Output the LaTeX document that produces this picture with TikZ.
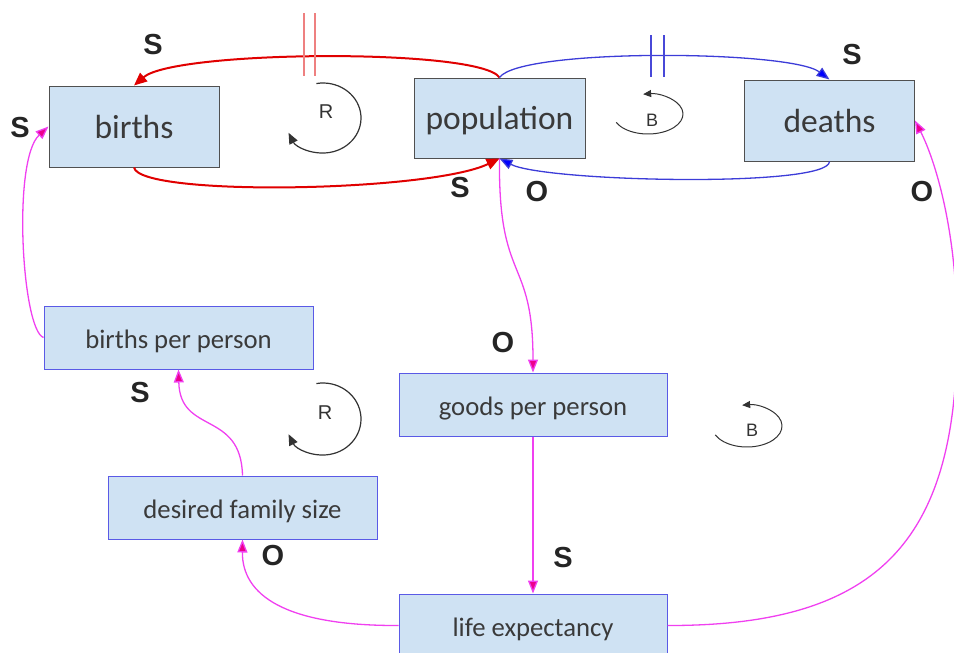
\documentclass[tikz,border=0pt]{standalone}
\usepackage{fontspec}
\setmainfont{Carlito}
\newfontfamily\arialf{Liberation Sans}
\usetikzlibrary{arrows.meta}
\definecolor{boxfill}{HTML}{CFE2F3}
\definecolor{txtgray}{HTML}{3A3A3A}
\definecolor{grayedge}{HTML}{505050}
\definecolor{blueedge}{HTML}{5A5AE6}
\definecolor{redline}{HTML}{E00000}
\definecolor{delayred}{HTML}{EE8080}
\definecolor{blueline}{HTML}{3C3CD8}
\definecolor{delayblue}{HTML}{4848D8}
\definecolor{magline}{HTML}{F040F0}
\definecolor{signcol}{HTML}{252525}
\tikzset{
  varbox/.style={rectangle, fill=boxfill, inner sep=0pt, text=txtgray, line width=1pt},
  bigbox/.style={varbox, draw=grayedge, minimum width=170pt, minimum height=81pt, text height=23pt, text depth=0pt, font=\fontsize{33.5}{38}\selectfont},
  smallbox/.style={varbox, draw=blueedge, minimum width=269pt, minimum height=63pt, text height=22pt, text depth=0pt, font=\fontsize{26.7}{30}\selectfont},
  sign/.style={font=\arialf\bfseries\fontsize{29}{30}\selectfont, text=signcol, inner sep=0pt},
  loopletter/.style={font=\arialf\fontsize{20}{22}\selectfont, text=black!80, inner sep=0pt},
  redlink/.style={draw=redline, line width=2pt, -{Triangle[length=13pt,width=11pt]}},
  bluelink/.style={draw=blueline, line width=1.3pt, -{Triangle[length=13pt,width=10pt,fill=blue]}},
  maglink/.style={draw=magline, line width=1.3pt, -{Triangle[length=13pt,width=10pt,fill=magenta]}},
  loopline/.style={draw=black!80, line width=1.2pt},
}
\begin{document}
\begin{tikzpicture}[x=1pt,y=-1pt]
\useasboundingbox (0,0) rectangle (954,653);

% boxes
\node[bigbox] (births) at (134,126.5) {births};
\node[bigbox, minimum width=171pt, minimum height=80pt] (pop) at (499.5,118) {population};
\node[bigbox] (deaths) at (829.5,120.5) {deaths};
\node[smallbox] (bpp) at (178.5,337.5) {births per person};
\node[smallbox, minimum width=268pt] (gpp) at (533,404.5) {goods per person};
\node[smallbox] (dfs) at (242.5,507.5) {desired family size};
\node[smallbox, minimum width=268pt] (life) at (533,625.5) {life expectancy};

% red loop links
\draw[redlink] (pop.north) .. controls (480,48) and (175,50) .. (births.north);
\draw[redlink] (births.south) .. controls (140,197) and (430,192) .. (pop.south);
% blue loop links
\draw[bluelink] (pop.north) .. controls (520,48) and (790,50) .. (deaths.north);
\draw[bluelink] (deaths.south) .. controls (829,188) and (545,182) .. (pop.south);

% delay marks
\coordinate (rd1) at (304,13); \coordinate (rd2) at (304,76);
\coordinate (rd3) at (315,13); \coordinate (rd4) at (315,76);
\draw[delayred, line width=1.2pt] (rd1) -- (rd2) (rd3) -- (rd4);
\coordinate (bd1) at (651,35); \coordinate (bd2) at (651,77);
\coordinate (bd3) at (664,35); \coordinate (bd4) at (664,77);
\draw[delayblue, line width=1.2pt] (bd1) -- (bd2) (bd3) -- (bd4);

% magenta links
\draw[maglink] (pop.south) .. controls (498,285) and (533,255) .. (gpp.north);
\draw[maglink] (gpp.south) -- (life.north);
\coordinate (via) at (957,330);
\draw[maglink] (life.east) .. controls (880,626) and (958,540) .. (via)
                           .. controls (957,230) and (935,160) .. (deaths.east);
\draw[maglink] (life.west) .. controls (285,626) and (242,595) .. (dfs.south);
\draw[maglink] (dfs.north) .. controls (241,410) and (180,435) .. (bpp.south);
\draw[maglink] (bpp.west) .. controls (22,330) and (12,160) .. (births.west);

% loop symbols (angles in canvas orientation: y up)
\coordinate (r1c) at (323,118);
\draw[loopline, -{Triangle[length=11pt,width=9pt]}] ([shift={(100:38pt and 35pt)}]r1c) arc[start angle=100, end angle=-155, x radius=38pt, y radius=35pt];
\node[loopletter] (r1) at (326,112) {R};
\coordinate (r2c) at (323,419);
\draw[loopline, -{Triangle[length=11pt,width=9pt]}] ([shift={(100:38pt and 36pt)}]r2c) arc[start angle=100, end angle=-155, x radius=38pt, y radius=36pt];
\node[loopletter] (r2) at (325,413) {R};
\coordinate (b1c) at (648,114);
\draw[loopline, line width=1pt, -{Triangle[length=8pt,width=7pt]}] ([shift={(-155:35pt and 20pt)}]b1c) arc[start angle=-155, end angle=98, x radius=35pt, y radius=20pt];
\node[loopletter, font=\arialf\fontsize{18}{20}\selectfont] (b1) at (652,120) {B};
\coordinate (b2c) at (747,426);
\draw[loopline, line width=1pt, -{Triangle[length=8pt,width=7pt]}] ([shift={(-155:35pt and 21pt)}]b2c) arc[start angle=-155, end angle=98, x radius=35pt, y radius=21pt];
\node[loopletter, font=\arialf\fontsize{18}{20}\selectfont] (b2) at (752,430) {B};

% signs
\node[sign] (s1) at (153,45) {S};
\node[sign] (s2) at (20,128) {S};
\node[sign] (s3) at (460,188) {S};
\node[sign] (s4) at (852,55) {S};
\node[sign] (o1) at (537,192) {O};
\node[sign] (o2) at (922,192) {O};
\node[sign] (o3) at (503,343) {O};
\node[sign] (s5) at (140,393) {S};
\node[sign] (s6) at (563,558) {S};
\node[sign] (o4) at (273,556) {O};
\end{tikzpicture}
\end{document}
